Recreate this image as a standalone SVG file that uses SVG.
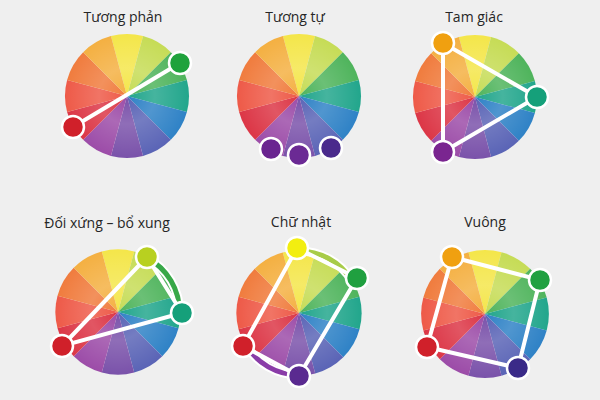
<svg xmlns="http://www.w3.org/2000/svg" xmlns:xlink="http://www.w3.org/1999/xlink" width="600" height="400" viewBox="0 0 600 400">
  <style>
    .title { font-family: "Open Sans", "Liberation Sans", sans-serif; font-size: 14px; fill: #262626; text-anchor: middle; }
    .link { stroke: #fff; stroke-width: 4; fill: none; stroke-linecap: round; }
    .dot { stroke: #fff; stroke-width: 2.5; }
    .bandbg { stroke: #fff; stroke-width: 9; fill: none; }
    .band { stroke-width: 5; fill: none; }
  </style>
  <defs>
    <radialGradient id="sheen" cx="0.5" cy="0.5" r="0.5">
      <stop offset="0" stop-color="#fff" stop-opacity="0"/>
      <stop offset="0.45" stop-color="#fff" stop-opacity="0.16"/>
      <stop offset="0.8" stop-color="#fff" stop-opacity="0.06"/>
      <stop offset="1" stop-color="#fff" stop-opacity="0"/>
    </radialGradient>
    <g id="wheel">
      <path d="M0,0 L-16.05,-59.89 A62,62 0 0 1 16.05,-59.89 Z" fill="#f4e64a"/>
      <path d="M0,0 L16.05,-59.89 A62,62 0 0 1 43.84,-43.84 Z" fill="#c6dc56"/>
      <path d="M0,0 L43.84,-43.84 A62,62 0 0 1 59.89,-16.05 Z" fill="#4fb45c"/>
      <path d="M0,0 L59.89,-16.05 A62,62 0 0 1 59.89,16.05 Z" fill="#22a68c"/>
      <path d="M0,0 L59.89,16.05 A62,62 0 0 1 43.84,43.84 Z" fill="#2f82c6"/>
      <path d="M0,0 L43.84,43.84 A62,62 0 0 1 16.05,59.89 Z" fill="#5a64b6"/>
      <path d="M0,0 L16.05,59.89 A62,62 0 0 1 -16.05,59.89 Z" fill="#7a52aa"/>
      <path d="M0,0 L-16.05,59.89 A62,62 0 0 1 -43.84,43.84 Z" fill="#9c4ca8"/>
      <path d="M0,0 L-43.84,43.84 A62,62 0 0 1 -59.89,16.05 Z" fill="#dc3646"/>
      <path d="M0,0 L-59.89,16.05 A62,62 0 0 1 -59.89,-16.05 Z" fill="#ee5a48"/>
      <path d="M0,0 L-59.89,-16.05 A62,62 0 0 1 -43.84,-43.84 Z" fill="#f07c3e"/>
      <path d="M0,0 L-43.84,-43.84 A62,62 0 0 1 -16.05,-59.89 Z" fill="#f4b042"/>
      <circle r="62" fill="url(#sheen)"/>
    </g>
  </defs>

  <rect width="600" height="400" fill="#efefef"/>

  <g id="tuong-phan">
    <text class="title" x="123" y="22">Tương phản</text>
    <use xlink:href="#wheel" transform="translate(127,96)"/>
  </g>
  <g id="tuong-tu">
    <text class="title" x="295" y="22">Tương tự</text>
    <use xlink:href="#wheel" transform="translate(299,96)"/>
  </g>
  <g id="tam-giac">
    <text class="title" x="474" y="22">Tam giác</text>
    <use xlink:href="#wheel" transform="translate(475,97)"/>
  </g>
  <g id="doi-xung-bo-xung">
    <text class="title" x="107" y="228">Đối xứng – bổ xung</text>
    <use xlink:href="#wheel" transform="translate(118,312) scale(1.01)"/>
  </g>
  <g id="chu-nhat">
    <text class="title" x="301" y="227">Chữ nhật</text>
    <use xlink:href="#wheel" transform="translate(299,313) scale(1.01)"/>
  </g>
  <g id="vuong">
    <text class="title" x="485" y="227">Vuông</text>
    <use xlink:href="#wheel" transform="translate(485,314) scale(1.03)"/>
  </g>

  <g id="connectors">
    <line class="link" x1="73" y1="127" x2="180" y2="63"/>
    <polygon class="link" points="443,43 537,97 443,152"/>
    <path class="bandbg" d="M146.9,257.7 A61.5,61.5 0 0 1 179.5,313.1"/>
    <path class="band" stroke="#38a848" d="M146.9,257.7 A61.5,61.5 0 0 1 179.5,313.1"/>
    <polyline class="link" points="147,257 62,346 182,313 147,257"/>
    <path class="bandbg" d="M297.1,251 A62,62 0 0 1 352.1,281"/>
    <path class="band" stroke="#a8cc48" d="M297.1,251 A62,62 0 0 1 352.1,281"/>
    <path class="bandbg" d="M299,375 A62,62 0 0 1 245.6,344.5"/>
    <path class="band" stroke="#8a3ca8" d="M299,375 A62,62 0 0 1 245.6,344.5"/>
    <polygon class="link" points="297,248 357,278 299,376 243,346"/>
    <polygon class="link" points="452,257 540,280 518,368 427,347"/>
  </g>

  <g id="dot-tp-green"><circle class="dot" cx="180" cy="63" r="11" fill="#1fa23c"/></g>
  <g id="dot-tp-red"><circle class="dot" cx="73" cy="127" r="11" fill="#d0202a"/></g>

  <g id="dot-tt-1"><circle class="dot" cx="271" cy="149" r="11" fill="#6a2490"/></g>
  <g id="dot-tt-2"><circle class="dot" cx="299" cy="155" r="11" fill="#6b2a94"/></g>
  <g id="dot-tt-3"><circle class="dot" cx="331" cy="148" r="11" fill="#4a2a8c"/></g>

  <g id="dot-tg-orange"><circle class="dot" cx="443" cy="43" r="11" fill="#f0a010"/></g>
  <g id="dot-tg-teal"><circle class="dot" cx="537" cy="97" r="11" fill="#15a07a"/></g>
  <g id="dot-tg-purple"><circle class="dot" cx="443" cy="152" r="11" fill="#7a2590"/></g>

  <g id="dot-dx-yg"><circle class="dot" cx="147" cy="257" r="11" fill="#b8d020"/></g>
  <g id="dot-dx-teal"><circle class="dot" cx="182" cy="313" r="11" fill="#15a07a"/></g>
  <g id="dot-dx-red"><circle class="dot" cx="62" cy="346" r="11" fill="#d0202a"/></g>

  <g id="dot-cn-yellow"><circle class="dot" cx="297" cy="248" r="11" fill="#f2ee10"/></g>
  <g id="dot-cn-green"><circle class="dot" cx="357" cy="278" r="11" fill="#20a040"/></g>
  <g id="dot-cn-purple"><circle class="dot" cx="299" cy="376" r="11" fill="#5a2a90"/></g>
  <g id="dot-cn-red"><circle class="dot" cx="243" cy="346" r="11" fill="#d0202a"/></g>

  <g id="dot-v-orange"><circle class="dot" cx="452" cy="257" r="11" fill="#f0a010"/></g>
  <g id="dot-v-green"><circle class="dot" cx="540" cy="280" r="11" fill="#20a040"/></g>
  <g id="dot-v-purple"><circle class="dot" cx="518" cy="368" r="11" fill="#3a2a88"/></g>
  <g id="dot-v-red"><circle class="dot" cx="427" cy="347" r="11" fill="#d0202a"/></g>
</svg>
